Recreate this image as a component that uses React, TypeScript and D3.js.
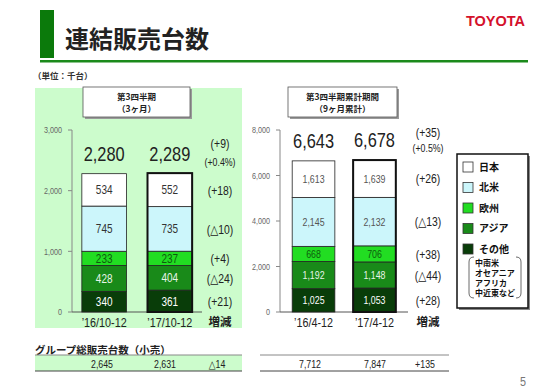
import React from 'react'
import * as d3 from 'd3'

// regions, top of the stack first
const regions = ['日本', '北米', '欧州', 'アジア', 'その他']
const regionColors = ['#ffffff', '#ccf6fb', '#22dd22', '#198a19', '#093d09']
const regionText = ['#333333', '#333333', '#0d5c0d', '#e8f4e8', '#ffffff']

const q3Periods = ['’16/10-12', '’17/10-12']
const q3Values = [
  [534, 745, 233, 428, 340],
  [552, 735, 237, 404, 361],
]
const q3Totals = ['2,280', '2,289']
const q3Diff = ['(+18)', '(△10)', '(+4)', '(△24)', '(+21)']
const q3TotalDiff = ['(+9)', '(+0.4%)']
const q3Ticks = [0, 1000, 2000, 3000]

const ytdPeriods = ['’16/4-12', '’17/4-12']
const ytdValues = [
  [1613, 2145, 668, 1192, 1025],
  [1639, 2132, 706, 1148, 1053],
]
const ytdTotals = ['6,643', '6,678']
const ytdDiff = ['(+26)', '(△13)', '(+38)', '(△44)', '(+28)']
const ytdTotalDiff = ['(+35)', '(+0.5%)']
const ytdTicks = [0, 2000, 4000, 6000, 8000]

const otherNote = ['中南米', 'オセアニア', 'アフリカ', '中近東など']

const retailLabel = 'グループ総販売台数（小売）'
const retailQ3 = ['2,645', '2,631', '△14']
const retailYtd = ['7,712', '7,847', '+135']

const JP = '"Noto Sans CJK JP", sans-serif'
const NUM = '"Liberation Sans", Arial, sans-serif'

// the triangle (decrease mark) is drawn in a font that has a proper glyph
const withTriangle = (s: string) =>
  s.split(/(△)/).map((part, i) =>
    part === '△'
      ? <tspan key={i} fontFamily='"DejaVu Sans", sans-serif'>△</tspan>
      : <React.Fragment key={i}>{part}</React.Fragment>)

// narrow numeric text (the source uses a condensed face)
const NText: React.FC<{
  x: number; y: number; size: number; fill?: string; anchor?: string; squeeze?: number
  children: string
}> = ({ x, y, size, fill = '#222', anchor = 'middle', squeeze = 0.8, children }) => (
  <text transform={`translate(${x},${y}) scale(${squeeze},1)`} dy="0.36em"
    textAnchor={anchor as any} fontSize={size} fontFamily={NUM} fill={fill}>{withTriangle(children)}</text>
)

interface PanelProps {
  periods: string[]
  values: number[][]
  totals: string[]
  diff: string[]
  totalDiff: string[]
  ticks: number[]
  max: number
  xRange: [number, number]
  pad: [number, number]
  diffX: number
  totalDiffY: [number, number]
  segFont: number
  segGray: boolean
}

const Panel: React.FC<PanelProps> = (p) => {
  const y = d3.scaleLinear().domain([0, p.max]).range([312, 130])
  const x = d3.scaleBand().domain(p.periods).range(p.xRange)
    .paddingInner(p.pad[0]).paddingOuter(p.pad[1])
  const fmt = d3.format(',')
  const axisX = p.xRange[0]

  const stacks = p.values.map(vals => {
    // bottom-up stacking: last region first
    let acc = 0
    const segs: { i: number; y0: number; y1: number; v: number }[] = []
    for (let i = vals.length - 1; i >= 0; i--) {
      segs.push({ i, y0: acc, y1: acc + vals[i], v: vals[i] })
      acc += vals[i]
    }
    return { segs, total: acc }
  })

  return (
    <g>
      {/* y axis */}
      <line x1={axisX} x2={axisX} y1={y(p.max)} y2={y(0)} stroke="#888" />
      {p.ticks.map(t => (
        <g key={t}>
          <line x1={axisX - 4} x2={axisX} y1={y(t)} y2={y(t)} stroke="#888" />
          <NText x={axisX - 10} y={y(t)} size={9} fill="#666" anchor="end">{fmt(t)}</NText>
        </g>
      ))}
      <line x1={axisX} x2={p.xRange[1]} y1={y(0)} y2={y(0)} stroke="#555" />

      {stacks.map((s, k) => {
        const bx = x(p.periods[k])!
        const bw = x.bandwidth()
        return (
          <g key={k}>
            {s.segs.map(seg => (
              <g key={seg.i}>
                <rect x={bx} y={y(seg.y1)} width={bw} height={y(seg.y0) - y(seg.y1)}
                  fill={regionColors[seg.i]} stroke="#222" strokeWidth={0.8} />
                <NText x={bx + bw / 2} y={(y(seg.y0) + y(seg.y1)) / 2} size={p.segFont}
                  fill={p.segGray && seg.i < 2 ? '#555' : regionText[seg.i]}>{fmt(seg.v)}</NText>
              </g>
            ))}
            {k === 1 && (
              <rect x={bx} y={y(s.total)} width={bw} height={y(0) - y(s.total)}
                fill="none" stroke="#111" strokeWidth={2} />
            )}
            <NText x={bx + bw / 2} y={y(s.total) - 20} size={20.5}>{p.totals[k]}</NText>
            <NText x={bx + bw / 2} y={322} size={13.5}>{p.periods[k]}</NText>
          </g>
        )
      })}

      {/* change column, aligned with the latest bar's segments */}
      {stacks[1].segs.map(seg => (
        <NText key={seg.i} x={p.diffX} y={(y(seg.y0) + y(seg.y1)) / 2} size={13}>{p.diff[seg.i]}</NText>
      ))}
      <NText x={p.diffX} y={p.totalDiffY[0]} size={13}>{p.totalDiff[0]}</NText>
      <NText x={p.diffX} y={p.totalDiffY[1]} size={11}>{p.totalDiff[1]}</NText>
      <text x={p.diffX} y={322} dy="0.35em" textAnchor="middle"
        fontSize={11.5} fontWeight="bold" fontFamily={JP} fill="#222">増減</text>
    </g>
  )
}

const TitleBox: React.FC<{ x: number; w: number; lines: string[] }> = ({ x, w, lines }) => (
  <g>
    <rect x={x + 2} y={89} width={w} height={30} fill="#9a9a9a" />
    <rect x={x} y={87} width={w} height={30} fill="#fff" stroke="#555" strokeWidth={0.8} />
    <text x={x + w / 2} y={97} dy="0.35em" textAnchor="middle" fontSize={8.5}
      fontWeight="bold" fontFamily={JP} fill="#222">{lines[0]}</text>
    <text x={x + w / 2} y={109} dy="0.35em" textAnchor="middle" fontSize={8.5}
      fontWeight="bold" fontFamily={JP} fill="#222">{lines[1]}</text>
  </g>
)

export default function App() {
  return (
    <svg width={550} height={389} viewBox="0 0 550 389"
      style={{ position: 'absolute', left: 0, top: 0, background: '#fff' }}>
      {/* header */}
      <rect x={40} y={10} width={14} height={48} fill="#0b7a0b" />
      <text x={65} y={48} fontSize={24} fontWeight="bold" fontFamily={JP} fill="#222">連結販売台数</text>
      <rect x={40} y={60} width={488} height={2.5} fill="#1b8a1b" />
      <text x={525} y={26} textAnchor="end" fontSize={14.5} fontWeight="bold"
        fontFamily='"Liberation Sans", Arial, sans-serif' fill="#d4112b">TOYOTA</text>
      <text x={33} y={76} dy="0.35em" fontSize={8.5} fontWeight="bold" fontFamily={JP} fill="#333">（単位：千台）</text>

      {/* left panel background */}
      <rect x={35} y={88} width={207} height={240} fill="#ccfccc" />

      <TitleBox x={83} w={107} lines={['第3四半期', '（3ヶ月）']} />
      <TitleBox x={288} w={109} lines={['第3四半期累計期間', '（9ヶ月累計）']} />

      <Panel periods={q3Periods} values={q3Values} totals={q3Totals} diff={q3Diff}
        totalDiff={q3TotalDiff} ticks={q3Ticks} max={3000} xRange={[72, 202]}
        pad={[0.32, 0.15]} diffX={220} totalDiffY={[143, 162]} segFont={12.5} segGray={false} />
      <Panel periods={ytdPeriods} values={ytdValues} totals={ytdTotals} diff={ytdDiff}
        totalDiff={ytdTotalDiff} ticks={ytdTicks} max={8000} xRange={[280, 408]}
        pad={[0.3, 0.2]} diffX={428} totalDiffY={[132, 148]} segFont={11} segGray={true} />

      {/* legend */}
      <rect x={459} y={156} width={71} height={154} fill="#888" />
      <rect x={457} y={154} width={71} height={154} fill="#fff" stroke="#111" strokeWidth={1.5} />
      {regions.map((r, i) => (
        <g key={r}>
          <rect x={463} y={162 + i * 20.5} width={10} height={10}
            fill={regionColors[i]} stroke="#333" strokeWidth={0.8} />
          <text x={479} y={167 + i * 20.5} dy="0.36em" fontSize={10} fontWeight="bold"
            fontFamily={JP} fill="#111">{r}</text>
        </g>
      ))}
      <path d="M474,257 Q469,257 469,262 L469,293 Q469,298 474,298" fill="none" stroke="#444" strokeWidth={0.8} />
      <path d="M516,257 Q521,257 521,262 L521,293 Q521,298 516,298" fill="none" stroke="#444" strokeWidth={0.8} />
      {otherNote.map((t, i) => (
        <text key={t} x={475} y={263 + i * 10} dy="0.35em" fontSize={8} fontWeight="bold"
          fontFamily={JP} fill="#111">{t}</text>
      ))}

      {/* retail table */}
      <text x={35} y={350} dy="0.35em" fontSize={10.5} fontWeight="bold" fontFamily={JP} fill="#222">{retailLabel}</text>
      <rect x={35} y={355} width={207} height={16} fill="#ccfccc" />
      <line x1={35} x2={242} y1={355} y2={355} stroke="#888" />
      <line x1={35} x2={242} y1={371} y2={371} stroke="#444" />
      <line x1={260} x2={449} y1={355} y2={355} stroke="#888" />
      <line x1={260} x2={449} y1={371} y2={371} stroke="#444" />
      {[102, 165, 217].map((cx, i) => (
        <NText key={i} x={cx} y={364} size={11}>{retailQ3[i]}</NText>
      ))}
      {[310, 375, 425].map((cx, i) => (
        <NText key={i} x={cx} y={364} size={11}>{retailYtd[i]}</NText>
      ))}

      <NText x={526} y={381} size={13.5} fill="#777" anchor="end">5</NText>
    </svg>
  )
}
